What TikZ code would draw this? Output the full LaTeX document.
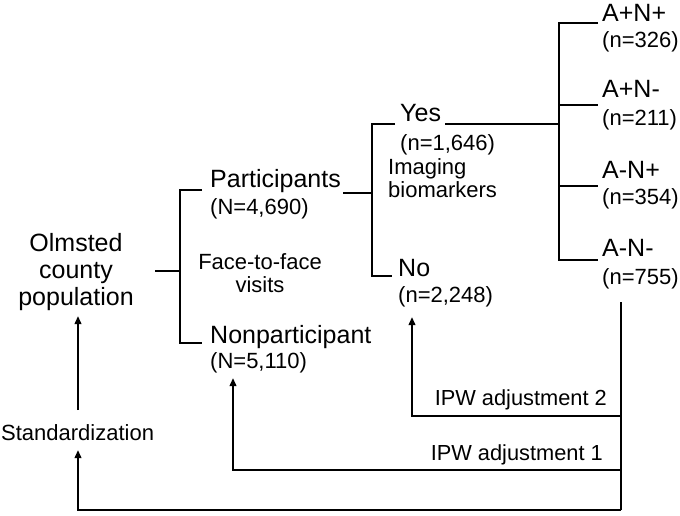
\documentclass[tikz,border=0pt]{standalone}
\usepackage{fontspec}
\setmainfont{Liberation Sans}
\usetikzlibrary{arrows.meta}
\begin{document}
\begin{tikzpicture}[x=1pt,y=-1pt,
  big/.style={inner sep=0pt,font=\fontsize{25}{27}\selectfont},
  small/.style={inner sep=0pt,font=\fontsize{22}{23}\selectfont},
  ipw/.style={inner sep=0pt,font=\fontsize{21.8}{23}\selectfont},
  ln/.style={line width=2pt},
  arr/.style={line width=2pt,-{Triangle[length=8pt,width=6.5pt]}}]
\useasboundingbox (0,0) rectangle (680,515);
% texts
\node[big,align=center] (olm) at (76,272) {Olmsted\\county\\population};
\node[big,anchor=base west] (part) at (210,187) {Participants};
\node[small,anchor=base west] (partn) at (210,214) {(N=4,690)};
\node[small,align=center] (f2f) at (260,273) {Face-to-face\\visits};
\node[big,anchor=base west] (nonp) at (210,343) {Nonparticipant};
\node[small,anchor=base west] (nonpn) at (210,368) {(N=5,110)};
\node[big,anchor=base west] (yes) at (400,121) {Yes};
\node[small,anchor=base west] (yesn) at (400,150) {(n=1,646)};
\node[small,align=left,anchor=base west] (img) at (388,197) {Imaging\\biomarkers};
\node[big,anchor=base west] (no) at (398,276) {No};
\node[small,anchor=base west] (non) at (398,302) {(n=2,248)};
\node[big,anchor=base west] (g1) at (602,21) {A+N+};
\node[small,anchor=base west] (g1n) at (602,47) {(n=326)};
\node[big,anchor=base west] (g2) at (602,97) {A+N-};
\node[small,anchor=base west] (g2n) at (602,125) {(n=211)};
\node[big,anchor=base west] (g3) at (602,178) {A-N+};
\node[small,anchor=base west] (g3n) at (602,204) {(n=354)};
\node[big,anchor=base west] (g4) at (602,256) {A-N-};
\node[small,anchor=base west] (g4n) at (602,284) {(n=755)};
\node[ipw,anchor=base east] (ipw2) at (607,405) {IPW adjustment 2};
\node[ipw,anchor=base east] (ipw1) at (603,460) {IPW adjustment 1};
\node[small,anchor=base west] (std) at (1,440) {Standardization};
% coordinates
\coordinate (olmR) at (155,271);
\coordinate (b1) at (180,271);
\coordinate (b1t) at (180,190);
\coordinate (b1b) at (180,343);
\coordinate (partL) at (202,190);
\coordinate (nonpL) at (202,343);
\coordinate (partR) at (343,193);
\coordinate (b2) at (372,193);
\coordinate (b2t) at (372,124);
\coordinate (b2b) at (372,276);
\coordinate (yesL) at (395,124);
\coordinate (noL) at (392,276);
\coordinate (yesR) at (445,124);
\coordinate (b3) at (559,124);
\coordinate (b3t) at (559,23);
\coordinate (b3b) at (559,260);
\coordinate (g1L) at (598,23);
\coordinate (g2L) at (598,105);
\coordinate (g3L) at (598,186);
\coordinate (g4L) at (598,260);
\coordinate (r1) at (559,105);
\coordinate (r2) at (559,186);
\coordinate (vt) at (621,302);
\coordinate (v2) at (621,416);
\coordinate (v1) at (621,470);
\coordinate (vb) at (621,510);
\coordinate (a2) at (412,416);
\coordinate (a2t) at (412,317);
\coordinate (a1) at (233,470);
\coordinate (a1t) at (233,378);
\coordinate (a0) at (78,510);
\coordinate (a0t) at (78,450);
\coordinate (s0) at (78,410);
\coordinate (s0t) at (78,316);
% connectors
\draw[ln] (olmR) -- (b1);
\draw[ln] (partL) -- (b1t) -- (b1b) -- (nonpL);
\draw[ln] (partR) -- (b2);
\draw[ln] (yesL) -- (b2t) -- (b2b) -- (noL);
\draw[ln] (yesR) -- (b3);
\draw[ln] (g1L) -- (b3t) -- (b3b) -- (g4L);
\draw[ln] (r1) -- (g2L);
\draw[ln] (r2) -- (g3L);
\draw[ln] (vt) -- (vb);
\draw[arr] (v2) -- (a2) -- (a2t);
\draw[arr] (v1) -- (a1) -- (a1t);
\draw[arr] (vb) -- (a0) -- (a0t);
\draw[arr] (s0) -- (s0t);
\end{tikzpicture}
\end{document}
